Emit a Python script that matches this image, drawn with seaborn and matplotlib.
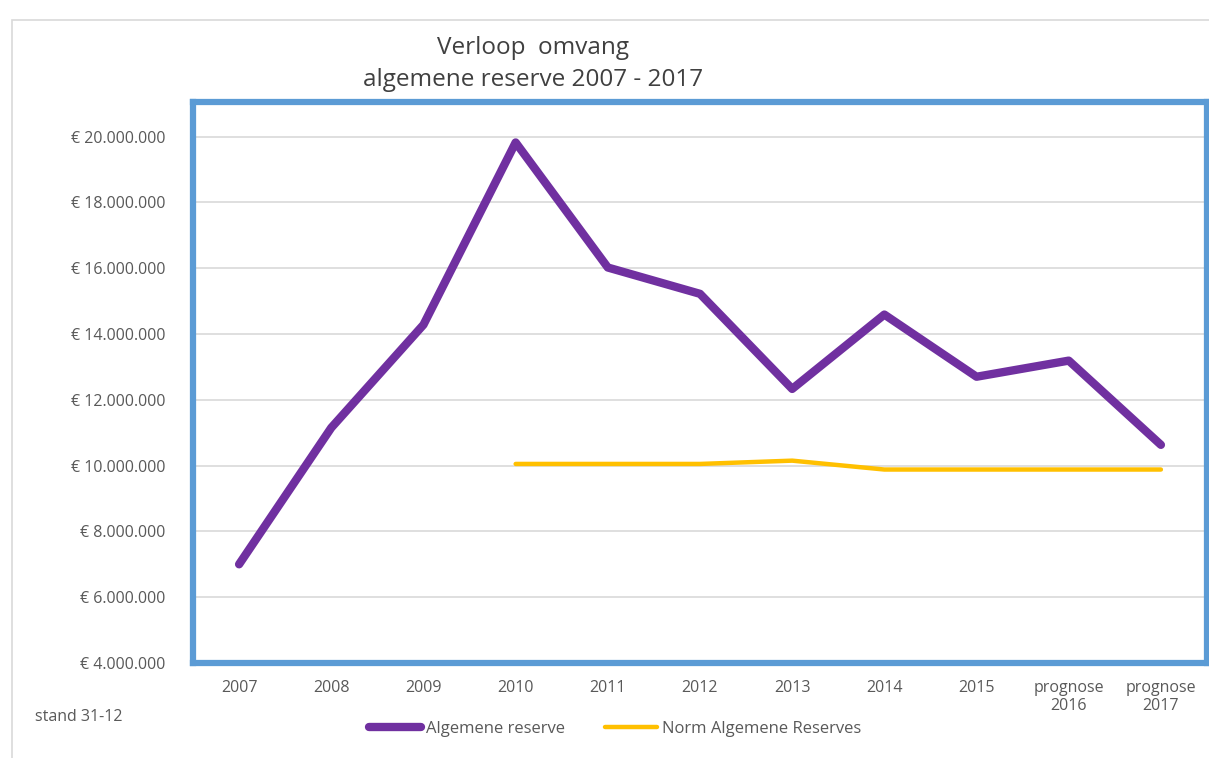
import matplotlib
matplotlib.use("Agg")
import matplotlib.pyplot as plt
import seaborn as sns
import pandas as pd
from matplotlib.patches import Rectangle
from matplotlib.ticker import FuncFormatter

# data
categories = ["2007", "2008", "2009", "2010", "2011", "2012",
              "2013", "2014", "2015", "prognose\n2016", "prognose\n2017"]
algemene_reserve = [7.0e6, 11.15e6, 14.28e6, 19.82e6, 16.02e6, 15.22e6,
                    12.33e6, 14.59e6, 12.70e6, 13.19e6, 10.63e6]
norm_reserve = [None, None, None, 10.05e6, 10.05e6, 10.05e6,
                10.15e6, 9.88e6, 9.88e6, 9.88e6, 9.88e6]
series_names = ["Algemene reserve", "Norm Algemene Reserves"]

sns.set_theme(style="white")
plt.rcParams['font.family'] = ['Open Sans', 'DejaVu Sans']

rows = []
for i, c in enumerate(categories):
    rows.append({"pos": i, "value": algemene_reserve[i], "serie": series_names[0]})
    if norm_reserve[i] is not None:
        rows.append({"pos": i, "value": norm_reserve[i], "serie": series_names[1]})
df = pd.DataFrame(rows)

fig = plt.figure(figsize=(12.09, 7.58), dpi=100)
ax = fig.add_axes([193/1209, 1 - 663/758, (1207-193)/1209, (663-102)/758])

palette = {series_names[0]: "#7030A0", series_names[1]: "#FFC000"}
sns.lineplot(data=df, x="pos", y="value", hue="serie", size="serie",
             sizes={series_names[0]: 6.0, series_names[1]: 3.2},
             palette=palette, ax=ax, legend=False, solid_capstyle="round")

ax.set_xlim(-0.5, 10.5)
ax.set_ylim(4e6, 21.05e6)
ax.set_yticks(range(4000000, 20000001, 2000000))
ax.yaxis.set_major_formatter(FuncFormatter(lambda v, p: "€ " + f"{int(v):,}".replace(",", ".")))
ax.set_xticks(range(len(categories)))
ax.set_xticklabels(categories)
ax.set_xlabel("")
ax.set_ylabel("")
ax.tick_params(axis="both", length=0, labelsize=11.5, labelcolor="#595959")
ax.tick_params(axis="y", pad=20)
ax.tick_params(axis="x", pad=12)
ax.grid(axis="y", color="#D9D9D9", linewidth=1.2)
ax.set_axisbelow(True)
for s in ax.spines.values():
    s.set_color("#5B9BD5")
    s.set_linewidth(4.5)

# outer chart border
fig.patches.append(Rectangle((12/1209, -0.01), 1.0, 1 - 12/758,
                             transform=fig.transFigure, fill=False,
                             edgecolor="#D9D9D9", linewidth=1.2))

fig.text(533/1209, 1 - 48/758, "Verloop  omvang", ha="center", va="center",
         fontsize=17.5, color="#404040")
fig.text(533/1209, 1 - 80/758, "algemene reserve 2007 - 2017", ha="center", va="center",
         fontsize=17.5, color="#404040")
fig.text(35/1209, 1 - 717/758, "stand 31-12", ha="left", va="center",
         fontsize=11.5, color="#595959")

handles = [plt.Line2D([0], [0], color=palette[series_names[0]], lw=6, solid_capstyle="round"),
           plt.Line2D([0], [0], color=palette[series_names[1]], lw=3.2, solid_capstyle="round")]
fig.legend(handles, series_names, loc="center", bbox_to_anchor=(615/1209, 1 - 729/758),
           ncol=2, frameon=False, fontsize=12, labelcolor="#595959",
           handlelength=3.1, handletextpad=0.3, columnspacing=2.4)

fig.savefig("out.png", dpi=100)
